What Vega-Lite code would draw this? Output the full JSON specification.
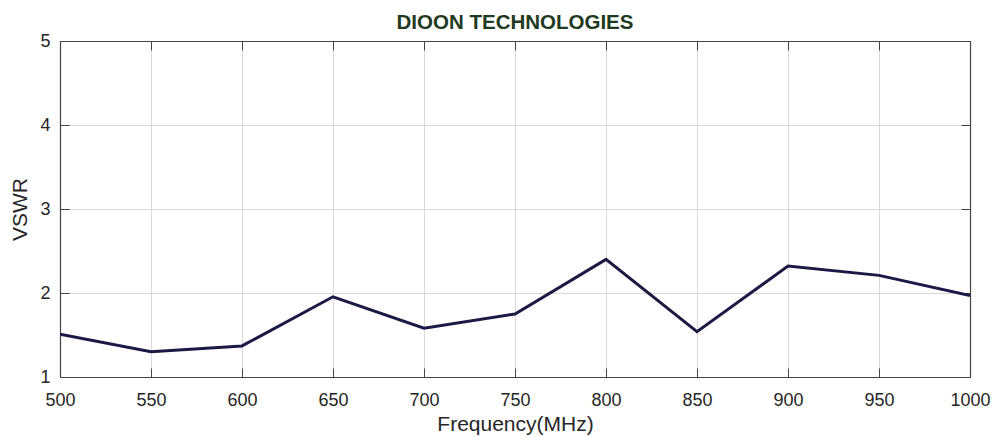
{
  "$schema": "https://vega.github.io/schema/vega-lite/v6.json",
  "width": 910,
  "height": 336,
  "autosize": "none",
  "padding": {"left": 60, "top": 41, "right": 25, "bottom": 60},
  "background": "white",
  "config": {
    "font": "Liberation Sans",
    "view": {"stroke": null}
  },
  "title": {
    "text": "DIOON TECHNOLOGIES",
    "font": "Liberation Sans",
    "fontSize": 20.5,
    "fontWeight": "bold",
    "color": "#1f3a1f",
    "anchor": "middle",
    "offset": -1
  },
  "data": {
    "values": [
      {"freq": 500, "vswr": 1.51},
      {"freq": 550, "vswr": 1.30},
      {"freq": 600, "vswr": 1.37},
      {"freq": 650, "vswr": 1.955},
      {"freq": 700, "vswr": 1.58},
      {"freq": 750, "vswr": 1.75},
      {"freq": 800, "vswr": 2.40},
      {"freq": 850, "vswr": 1.54},
      {"freq": 900, "vswr": 2.32},
      {"freq": 950, "vswr": 2.21},
      {"freq": 1000, "vswr": 1.97}
    ]
  },
  "layer": [
    {
      "mark": {"type": "line", "color": "#1c1945", "strokeWidth": 3, "clip": true},
      "encoding": {
        "x": {
          "field": "freq", "type": "quantitative",
          "scale": {"domain": [500, 1000], "nice": false, "zero": false},
          "axis": {
            "title": "Frequency(MHz)", "titleFontSize": 21, "titleFontWeight": "normal", "titleColor": "#262626", "titlePadding": 4,
            "values": [500, 550, 600, 650, 700, 750, 800, 850, 900, 950, 1000], "format": "d", "labelFlush": false,
            "labelFontSize": 18, "labelColor": "#262626", "labelPadding": 23,
            "tickSize": -9, "tickColor": "#444444", "domainColor": "#444444", "domainWidth": 1.2,
            "grid": true, "gridColor": "#d9d9d9", "gridWidth": 1
          }
        },
        "y": {
          "field": "vswr", "type": "quantitative",
          "scale": {"domain": [1, 5], "nice": false, "zero": false},
          "axis": {
            "title": "VSWR", "titleFontSize": 21, "titleFontWeight": "normal", "titleColor": "#262626", "titlePadding": 9,
            "values": [1, 2, 3, 4, 5], "labelFlush": false,
            "labelFontSize": 18, "labelColor": "#262626", "labelPadding": 19,
            "tickSize": -9, "tickColor": "#444444", "domainColor": "#444444", "domainWidth": 1.2,
            "grid": true, "gridColor": "#d9d9d9", "gridWidth": 1
          }
        }
      }
    },
    {
      "mark": {"type": "line", "opacity": 0},
      "encoding": {
        "x": {
          "field": "freq", "type": "quantitative",
          "scale": {"domain": [500, 1000], "nice": false, "zero": false},
          "axis": {"orient": "top", "title": null, "labels": false, "values": [500, 550, 600, 650, 700, 750, 800, 850, 900, 950, 1000], "tickSize": -9, "tickColor": "#444444", "domainColor": "#444444", "domainWidth": 1.2, "grid": false}
        },
        "y": {
          "field": "vswr", "type": "quantitative",
          "scale": {"domain": [1, 5], "nice": false, "zero": false},
          "axis": {"orient": "right", "title": null, "labels": false, "values": [1, 2, 3, 4, 5], "tickSize": -9, "tickColor": "#444444", "domainColor": "#444444", "domainWidth": 1.2, "grid": false}
        }
      }
    }
  ],
  "resolve": {"axis": {"x": "independent", "y": "independent"}}
}
